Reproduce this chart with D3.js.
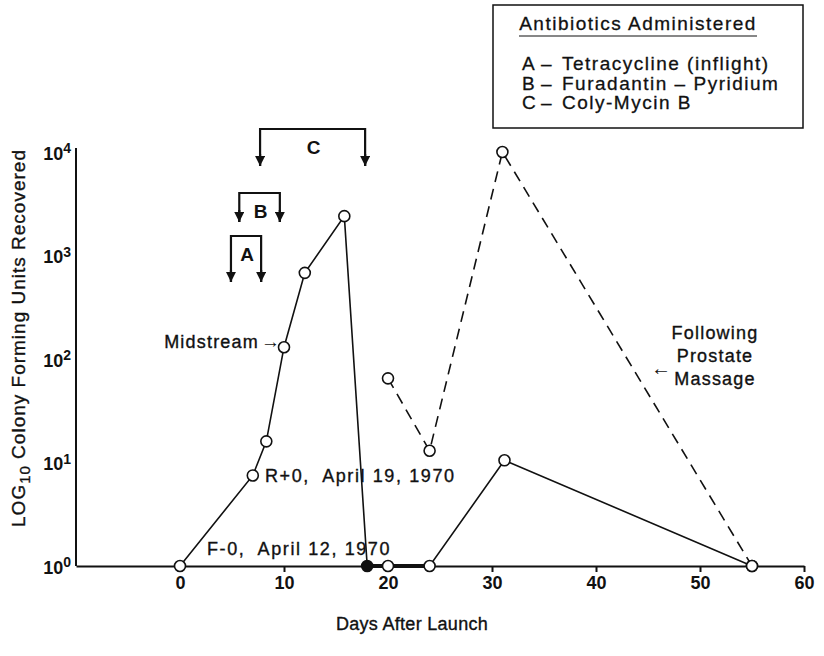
<!DOCTYPE html>
<html>
<head>
<meta charset="utf-8">
<script src="https://cdn.jsdelivr.net/npm/d3@7"></script>
<style>
  html, body { margin: 0; padding: 0; background: #fff; }
  svg { display: block; font-family: "Liberation Sans", Arial, sans-serif; }
  .lbl { fill: #111; font-size: 18px; letter-spacing: 1.2px; stroke: #111; stroke-width: 0.35px; }
  .leg { fill: #111; font-size: 19px; letter-spacing: 1.5px; stroke: #111; stroke-width: 0.3px; }
  .tick text { fill: #111; font-size: 18px; font-weight: bold; }
  .domain, .tick line { stroke: #111; }
</style>
</head>
<body>
<svg id="chart" width="824" height="656"></svg>
<script>
// in-flight / early post-flight samples (solid line)
const flightDays = [0, 7, 8.3, 10, 12, 15.8, 18];
const flightCounts = [1, 7.5, 16, 130, 680, 2400, 1];

// later samples (solid line)
const postDays = [18, 20, 24, 31.2, 55];
const postCounts = [1, 1, 1, 10.5, 1];

// following prostate massage (dashed line)
const massageDays = [20, 24, 31, 55];
const massageCounts = [65, 13, 10000, 1];

// antibiotic regimens
const drugCodes = ["A", "B", "C"];
const drugNames = ["Tetracycline (inflight)", "Furadantin \u2013 Pyridium", "Coly-Mycin B"];
const drugStart = [4.9, 5.7, 7.7];
const drugEnd = [7.8, 9.6, 17.8];

const xTicks = [0, 10, 20, 30, 40, 50, 60];
const yTicks = [1, 10, 100, 1000, 10000];

const svg = d3.select("#chart");
const x = d3.scaleLinear().domain([-10, 60]).range([76, 804]);
const y = d3.scaleLog().domain([1, 10000]).range([566, 152]);

const toPts = (days, vals) => days.map((d, i) => ({ d, v: vals[i] }));
const line = d3.line().x((p) => x(p.d)).y((p) => y(p.v));

// axes
svg.append("g")
  .attr("transform", `translate(0,${y(1)})`)
  .call(d3.axisBottom(x).tickValues(xTicks).tickSize(6).tickSizeOuter(0).tickPadding(4))
  .call((g) => g.select(".domain").attr("stroke-width", 2))
  .call((g) => g.selectAll(".tick line").attr("stroke-width", 2));

const yAxis = svg.append("g")
  .attr("transform", `translate(${x(-10)},0)`)
  .call(d3.axisLeft(y).tickValues(yTicks).tickSize(0).tickSizeOuter(0).tickFormat(() => ""));
yAxis.select(".domain").attr("stroke-width", 2).attr("d", `M0,${y(1)}V${y(10000) - 4}`);
yAxis.selectAll(".tick").each(function (v) {
  const t = d3.select(this).select("text")
    .attr("x", -5).attr("dy", "0.4em").attr("text-anchor", "end").text(null);
  t.append("tspan").text("10");
  t.append("tspan").attr("dy", "-0.45em").attr("font-size", "14px").text(Math.round(Math.log10(v)));
});

// axis titles
svg.append("text").attr("class", "lbl").style("letter-spacing", "0.3px")
  .attr("x", 412).attr("y", 630).attr("text-anchor", "middle")
  .text("Days After Launch");

const yt = svg.append("text").attr("class", "lbl")
  .style("font-size", "19px").style("letter-spacing", "1px")
  .attr("transform", "translate(25,338) rotate(-90)")
  .attr("text-anchor", "middle");
yt.append("tspan").text("LOG");
yt.append("tspan").attr("dy", 5).attr("font-size", "15px").text("10");
yt.append("tspan").attr("dy", -5).text(" Colony Forming Units Recovered");

// series
const flight = toPts(flightDays, flightCounts);
const post = toPts(postDays, postCounts);
const massage = toPts(massageDays, massageCounts);

svg.append("path").datum(flight).attr("d", line)
  .attr("fill", "none").attr("stroke", "#111").attr("stroke-width", 1.6);
svg.append("path").datum(post).attr("d", line)
  .attr("fill", "none").attr("stroke", "#111").attr("stroke-width", 1.6);
svg.append("path").datum(post.slice(0, 3)).attr("d", line)
  .attr("fill", "none").attr("stroke", "#111").attr("stroke-width", 4);
svg.append("path").datum(massage).attr("d", line)
  .attr("fill", "none").attr("stroke", "#111").attr("stroke-width", 1.6)
  .attr("stroke-dasharray", "11,7");

const allPts = flight.concat(post.slice(1), massage);
svg.append("g").selectAll("circle").data(allPts).join("circle")
  .attr("cx", (p) => x(p.d)).attr("cy", (p) => y(p.v)).attr("r", 5.5)
  .attr("fill", (p) => (p.d === 18 ? "#111" : "#fff"))
  .attr("stroke", "#111").attr("stroke-width", 1.6);

// antibiotic brackets
svg.append("defs").append("marker")
  .attr("id", "tip").attr("viewBox", "0 0 10 10").attr("refX", 10).attr("refY", 5)
  .attr("markerWidth", 10).attr("markerHeight", 10).attr("markerUnits", "userSpaceOnUse")
  .attr("orient", "auto")
  .append("path").attr("d", "M0,0L10,5L0,10Z").attr("fill", "#111");

const bracketTop = [236, 193, 129];
const bracketTip = [282, 222, 166];
drugCodes.forEach((c, i) => {
  const x0 = x(drugStart[i]), x1 = x(drugEnd[i]);
  svg.append("path")
    .attr("d", `M${x0},${bracketTip[i]}V${bracketTop[i]}H${x1}V${bracketTip[i]}`)
    .attr("fill", "none").attr("stroke", "#111").attr("stroke-width", 2.2);
  [x0, x1].forEach((xx) => {
    svg.append("line").attr("x1", xx).attr("x2", xx)
      .attr("y1", bracketTip[i] - 12).attr("y2", bracketTip[i])
      .attr("stroke", "#111").attr("stroke-width", 2.2).attr("marker-end", "url(#tip)");
  });
  svg.append("text").attr("fill", "#111").attr("font-size", "19px").attr("font-weight", "bold")
    .attr("x", (x0 + x1) / 2 + 1).attr("y", bracketTop[i] + 25).attr("text-anchor", "middle")
    .text(c);
});

// annotations
svg.append("text").attr("class", "lbl")
  .attr("x", 259).attr("y", 348).attr("text-anchor", "end").text("Midstream");
svg.append("text").attr("fill", "#111").attr("font-size", "19px")
  .attr("x", 261).attr("y", 348).text("\u2192");
svg.append("text").attr("class", "lbl").style("letter-spacing", "1.6px")
  .attr("x", 265).attr("y", 482).attr("xml:space", "preserve").text("R+0,  April 19, 1970");
svg.append("text").attr("class", "lbl").style("letter-spacing", "1.6px")
  .attr("x", 207).attr("y", 555).attr("xml:space", "preserve").text("F-0,  April 12, 1970");
["Following", "Prostate", "Massage"].forEach((s, i) => {
  svg.append("text").attr("class", "lbl")
    .attr("x", 715).attr("y", 339 + i * 23).attr("text-anchor", "middle").text(s);
});
svg.append("text").attr("fill", "#111").attr("font-size", "20px")
  .attr("x", 651).attr("y", 375).text("\u2190");

// legend box
svg.append("rect").attr("x", 493).attr("y", 5).attr("width", 310).attr("height", 123)
  .attr("fill", "#fff").attr("stroke", "#111").attr("stroke-width", 1.5);
svg.append("text").attr("class", "leg").attr("x", 638).attr("y", 30)
  .attr("text-anchor", "middle").text("Antibiotics Administered");
svg.append("line").attr("x1", 519).attr("x2", 757).attr("y1", 36).attr("y2", 36)
  .attr("stroke", "#111").attr("stroke-width", 1.2);
drugCodes.forEach((c, i) => {
  const t = svg.append("text").attr("class", "leg").attr("y", 70 + i * 19.5);
  t.append("tspan").attr("x", 522).text(c);
  t.append("tspan").attr("x", 541).text("\u2013");
  t.append("tspan").attr("x", 562).text(drugNames[i]);
});
</script>
</body>
</html>
